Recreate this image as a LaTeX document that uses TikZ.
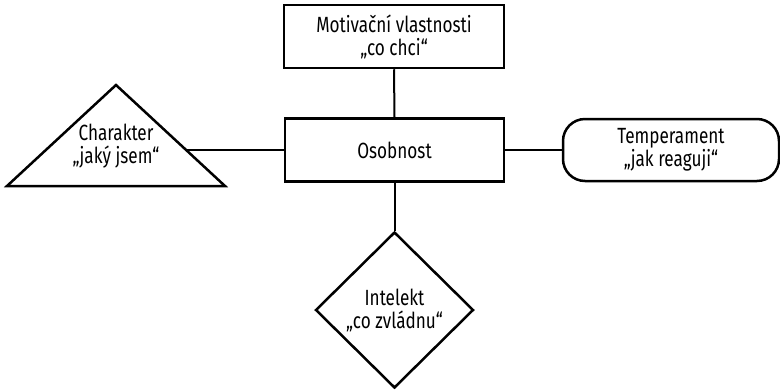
\documentclass[tikz,border=0pt]{standalone}
\usepackage{fontspec}
\setmainfont{Fira Sans}[FakeStretch=0.78]
\usetikzlibrary{shapes.geometric}
\begin{document}
\begin{tikzpicture}[x=1pt,y=-1pt,
  txt/.style={inner sep=0pt,align=center,font=\fontsize{22}{23}\selectfont},
  shapebox/.style={txt,draw,line width=2.5pt},
  link/.style={line width=2pt}]
\useasboundingbox (0,0) rectangle (780,389);
\node[shapebox,minimum width=220pt,minimum height=63pt] (mot) at (394,36.5) {Motivační vlastnosti\\„co chci“};
\node[shapebox,minimum width=219pt,minimum height=63pt] (oso) at (394.5,150) {Osobnost};
\node[shapebox,rounded corners=22pt,minimum width=216pt,minimum height=62pt] (tem) at (671,150) {Temperament\\„jak reaguji“};
\node[shapebox,diamond,minimum width=158pt,minimum height=156pt] (int) at (394.5,310) {Intelekt\\„co zvládnu“};
\draw[line width=2.5pt,line join=miter] (7,186) -- (116,85) -- (225,186) -- cycle;
\node[txt] (cha) at (116,146) {Charakter\\„jaký jsem“};
\coordinate (chaR) at (187,150);
\draw[link] (mot.south) -- (oso.north);
\draw[link] (oso.west) -- (chaR);
\draw[link] (oso.east) -- (tem.west);
\draw[link] (oso.south) -- (int.north);
\end{tikzpicture}
\end{document}
